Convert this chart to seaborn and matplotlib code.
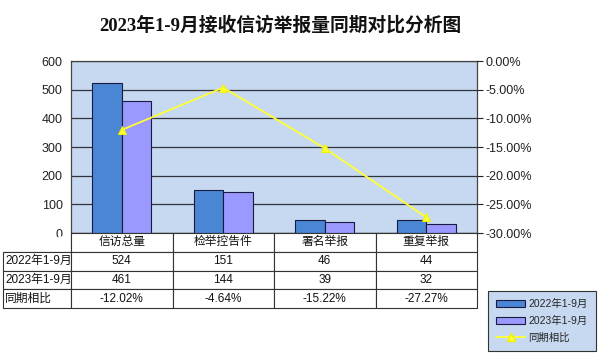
import matplotlib
matplotlib.use("Agg")
import matplotlib.pyplot as plt
import pandas as pd
import seaborn as sns
from matplotlib.patches import Patch
from matplotlib.lines import Line2D
from matplotlib.ticker import FuncFormatter

categories = ["信访总量", "检举控告件", "署名举报", "重复举报"]
series_names = ["2022年1-9月", "2023年1-9月"]
values_2022 = [524, 151, 46, 44]
values_2023 = [461, 144, 39, 32]
change_pct = [-12.02, -4.64, -15.22, -27.27]
change_label = "同期相比"
title = "2023年1-9月接收信访举报量同期对比分析图"

BLUE = "#4A86D4"
LAVENDER = "#9999FF"
PLOT_BG = "#C6D9F0"

sns.set_theme(style="white")
plt.rcParams["font.family"] = ["Liberation Sans", "Noto Sans CJK SC"]

df = pd.DataFrame({
    "category": categories * 2,
    "series": [series_names[0]] * 4 + [series_names[1]] * 4,
    "value": values_2022 + values_2023,
})

fig = plt.figure(figsize=(6.0, 3.56), dpi=100)
W, H = 600, 356
left, right, top, bottom = 71, 477, 61, 233
ax = fig.add_axes([left / W, 1 - bottom / H, (right - left) / W, (bottom - top) / H])
ax.set_facecolor(PLOT_BG)

sns.barplot(data=df, x="category", y="value", hue="series", palette=[BLUE, LAVENDER],
            saturation=1, width=0.58, gap=0, edgecolor="#1a1a40", linewidth=0.8, ax=ax, zorder=3)
ax.get_legend().remove()
ax.set_ylim(0, 600)
ax.set_yticks(range(0, 601, 100))
ax.set_xlim(-0.5, 3.5)
ax.set_xticks([])
ax.set_xlabel("")
ax.set_ylabel("")
ax.grid(axis="y", color="#333340", linewidth=0.9, zorder=1)
ax.tick_params(axis="y", labelsize=9, length=0, pad=6, colors="#222222")
for s in ax.spines.values():
    s.set_color("#444444")
    s.set_linewidth(0.9)

ax2 = ax.twinx()
sns.lineplot(x=list(range(4)), y=change_pct, ax=ax2, color="#FFFF33", marker="^",
             markersize=6, markeredgecolor="#F2F200", linewidth=1.3, zorder=5)
ax2.set_ylim(-30, 0)
ax2.set_yticks(range(-30, 1, 5))
ax2.yaxis.set_major_formatter(FuncFormatter(lambda v, p: f"{v:.2f}%"))
ax2.tick_params(axis="y", labelsize=9, length=4, width=0.8, direction="out", pad=2, colors="#222222")
ax2.set_ylabel("")
for s in ax2.spines.values():
    s.set_visible(False)

# data table under the chart
cells = [[""] + categories,
         [series_names[0]] + [str(v) for v in values_2022],
         [series_names[1]] + [str(v) for v in values_2023],
         [change_label] + [f"{v:.2f}%" for v in change_pct]]
tab_left, tab_top, tab_bottom = 3, 233, 308
tbl = fig.add_axes([0, 0, 1, 1], facecolor="none")
tbl.set_axis_off()
tb = tbl.table(cellText=cells, cellLoc="center",
               bbox=[tab_left / W, 1 - tab_bottom / H, (right - tab_left) / W, (tab_bottom - tab_top) / H],
               colWidths=[left - tab_left] + [(right - left) / 4] * 4)
tb.auto_set_font_size(False)
for (r, c), cell in tb.get_celld().items():
    cell.set_linewidth(0.8)
    cell.set_edgecolor("#333333")
    cell.set_facecolor("white")
    cell.get_text().set_fontsize(8.5)
    cell.get_text().set_color("#111111")
    if c == 0:
        cell.get_text().set_ha("left")
        cell.PAD = 0.03
    if r == 0 and c == 0:
        cell.visible_edges = "BR"

fig.text(280 / W, 1 - 25 / H, title, ha="center", va="center", fontsize=13.5, fontweight="bold",
         family=["Liberation Serif", "Noto Sans CJK SC"], color="#111111")

handles = [Patch(facecolor=BLUE, edgecolor="#1a1a40", linewidth=0.8),
           Patch(facecolor=LAVENDER, edgecolor="#1a1a40", linewidth=0.8),
           Line2D([0], [0], color="#FFFF33", marker="^", markersize=6, markeredgecolor="#F2F200", linewidth=1.3)]
leg = fig.legend(handles, series_names + [change_label], loc="center",
                 bbox_to_anchor=(542 / W, 1 - 321 / H), fontsize=7.5, frameon=True, fancybox=False,
                 edgecolor="#333333", framealpha=1, handlelength=2.8, handleheight=0.7,
                 labelspacing=0.65, borderpad=0.8, handletextpad=0.3)
leg.get_frame().set_facecolor(PLOT_BG)
leg.get_frame().set_linewidth(0.8)

fig.savefig("out.png", dpi=100, facecolor="white")
